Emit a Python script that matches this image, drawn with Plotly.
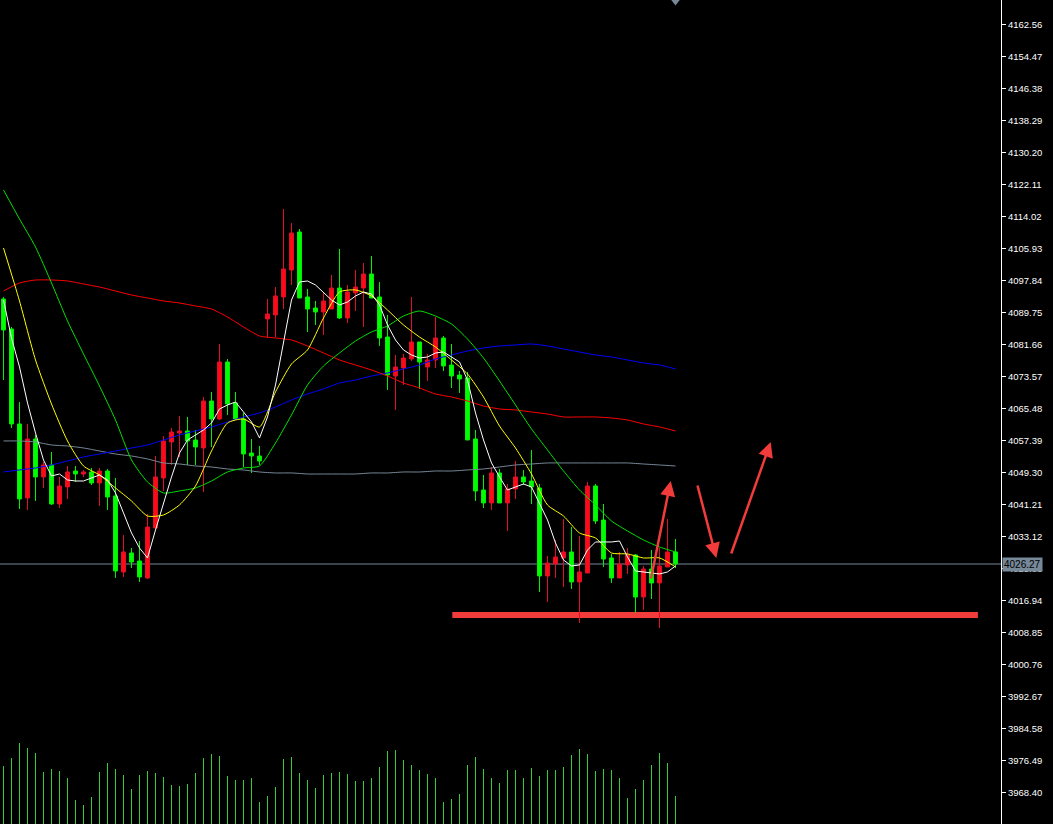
import plotly.graph_objects as go

# ---------------- data ----------------
opens = [4093.28, 4085.70, 4061.68, 4042.97, 4057.88, 4048.28, 4051.31, 4041.45, 4045.75, 4049.79,
         4049.03, 4049.54, 4046.76, 4049.79, 4043.47, 4024.26, 4029.06, 4027.04, 4022.74, 4035.38,
         4048.02, 4057.12, 4059.40, 4059.91, 4057.63, 4055.61, 4067.49, 4062.94, 4077.35, 4066.99,
         4062.94, 4054.34, 4053.58, 4088.22, 4089.24, 4093.79, 4100.61, 4110.22, 4093.79, 4091.01,
         4089.99, 4090.75, 4096.06, 4088.48, 4094.80, 4096.06, 4099.60, 4093.79, 4083.67, 4073.81,
         4075.83, 4078.11, 4082.41, 4076.09, 4077.86, 4083.42, 4076.59, 4074.06, 4073.31, 4057.88,
         4044.99, 4041.70, 4049.29, 4041.70, 4045.24, 4048.28, 4047.26, 4045.49, 4023.24, 4026.28,
         4027.80, 4029.31, 4021.73, 4024.00, 4046.00, 4037.40, 4027.80, 4022.74, 4026.03, 4028.55,
         4017.93, 4025.01, 4021.47, 4025.52, 4029.31]
highs = [4093.79, 4086.20, 4067.24, 4061.68, 4058.89, 4052.07, 4054.60, 4048.28, 4051.06, 4051.06,
         4050.05, 4050.55, 4050.55, 4050.30, 4048.02, 4033.61, 4030.32, 4032.09, 4038.92, 4053.58,
         4058.64, 4060.66, 4063.70, 4063.45, 4060.16, 4068.50, 4069.77, 4081.90, 4078.11, 4069.77,
         4064.46, 4057.88, 4056.11, 4093.28, 4096.31, 4116.04, 4112.50, 4110.98, 4095.81, 4092.78,
         4094.80, 4099.35, 4105.92, 4096.82, 4100.61, 4102.38, 4104.15, 4097.58, 4089.24, 4079.12,
         4079.37, 4093.79, 4082.41, 4079.37, 4088.73, 4083.93, 4081.90, 4075.08, 4074.82, 4060.16,
         4048.78, 4050.80, 4050.30, 4046.51, 4052.32, 4050.05, 4055.10, 4046.51, 4028.30, 4032.35,
         4037.66, 4035.63, 4033.36, 4047.01, 4046.51, 4041.45, 4028.81, 4029.31, 4030.32, 4028.81,
         4025.77, 4029.82, 4030.32, 4037.66, 4032.60]
lows = [4072.80, 4060.66, 4040.18, 4039.93, 4042.21, 4045.49, 4041.20, 4040.44, 4042.71, 4047.01,
        4048.28, 4046.25, 4040.94, 4039.93, 4022.74, 4022.99, 4025.27, 4021.73, 4022.49, 4035.38,
        4044.74, 4051.31, 4053.33, 4051.31, 4051.31, 4044.48, 4055.86, 4062.69, 4063.95, 4062.69,
        4050.80, 4049.29, 4051.31, 4083.42, 4083.67, 4090.75, 4096.82, 4093.53, 4084.94, 4086.71,
        4084.18, 4090.75, 4088.22, 4087.21, 4090.25, 4086.20, 4093.53, 4081.40, 4070.27, 4065.22,
        4071.54, 4077.60, 4070.53, 4072.55, 4075.83, 4075.08, 4070.78, 4069.51, 4057.63, 4042.21,
        4040.44, 4039.93, 4041.70, 4034.62, 4042.71, 4046.25, 4041.45, 4019.20, 4016.67, 4022.74,
        4020.46, 4019.96, 4011.36, 4024.00, 4036.39, 4025.52, 4021.47, 4022.74, 4023.75, 4013.89,
        4014.65, 4017.43, 4010.10, 4025.52, 4025.27]
closes = [4085.44, 4061.68, 4042.71, 4057.88, 4048.28, 4051.31, 4041.45, 4046.00, 4049.54, 4049.03,
          4049.54, 4046.76, 4049.79, 4043.22, 4024.51, 4029.31, 4026.78, 4022.99, 4035.63, 4048.28,
          4057.38, 4059.65, 4059.91, 4057.38, 4055.86, 4067.49, 4062.94, 4077.35, 4066.73, 4062.94,
          4054.09, 4053.58, 4052.32, 4089.49, 4094.04, 4100.87, 4109.97, 4093.53, 4090.75, 4089.99,
          4092.78, 4096.06, 4088.48, 4095.05, 4096.31, 4099.60, 4093.53, 4083.42, 4074.06, 4076.09,
          4078.36, 4082.41, 4077.35, 4077.86, 4083.42, 4076.34, 4073.81, 4073.05, 4057.63, 4044.74,
          4041.70, 4049.29, 4041.70, 4045.24, 4048.28, 4047.01, 4045.75, 4023.24, 4026.53, 4028.05,
          4029.31, 4021.73, 4024.26, 4046.00, 4037.15, 4027.54, 4022.74, 4026.28, 4028.55, 4017.93,
          4025.01, 4021.47, 4025.77, 4029.31, 4026.27]
volumes = [5800, 6600, 8100, 7600, 7100, 5200, 5500, 5300, 4600, 2400,
           1900, 2700, 5200, 6100, 5500, 4900, 3500, 4900, 5300, 5100,
           4700, 3900, 3800, 4000, 5100, 6600, 7000, 6800, 4800, 4400,
           4400, 4600, 2200, 2800, 3700, 6500, 6700, 5100, 4400, 3600,
           4900, 5100, 5200, 5000, 4300, 4300, 4600, 5700, 7300, 7400,
           6400, 5900, 5400, 5000, 4600, 2200, 2500, 3000, 5900, 6700,
           5500, 4600, 4100, 5400, 5400, 4600, 5600, 4800, 5400, 5400,
           5700, 6900, 7500, 7000, 5300, 5500, 5400, 4600, 2600, 3500,
           4400, 5900, 7100, 6100, 2800]

white_ma = [4093.03, 4083.42, 4076.09, 4066.99, 4059.40, 4052.57, 4048.53, 4049.03, 4047.52, 4047.26,
            4047.26, 4048.02, 4048.78, 4047.52, 4044.23, 4039.18, 4034.12, 4030.32, 4027.80, 4034.87,
            4041.70, 4048.28, 4054.34, 4057.63, 4058.89, 4060.16, 4061.93, 4065.47, 4066.48, 4067.24,
            4064.71, 4062.18, 4058.14, 4063.45, 4071.54, 4082.41, 4093.03, 4097.58, 4097.83, 4096.82,
            4095.05, 4093.03, 4091.77, 4092.52, 4094.04, 4095.05, 4094.54, 4091.77, 4086.71, 4082.91,
            4080.39, 4079.12, 4078.36, 4078.62, 4079.63, 4079.88, 4078.62, 4077.35, 4072.80, 4064.46,
            4057.63, 4051.82, 4048.28, 4044.99, 4045.75, 4046.51, 4045.75, 4041.70, 4037.40, 4031.59,
            4027.29, 4025.77, 4026.03, 4029.82, 4031.84, 4031.84, 4031.84, 4032.09, 4028.05, 4024.51,
            4024.26, 4024.00, 4023.75, 4024.26, 4025.77]

ma_idx = list(range(0, 85, 2))
yellow_ma = [4106.18, 4092.78, 4077.86, 4066.73, 4057.38, 4051.06, 4048.78, 4045.49, 4042.21, 4038.41,
             4038.67, 4041.20, 4046.00, 4054.85, 4061.93, 4062.94, 4060.92, 4069.77, 4076.85, 4080.39,
             4088.48, 4095.05, 4095.56, 4094.04, 4090.50, 4086.71, 4083.67, 4081.14, 4077.86, 4074.32,
             4068.50, 4061.17, 4055.61, 4049.03, 4041.20, 4038.41, 4034.12, 4032.85, 4029.06, 4028.81,
             4027.80, 4027.80, 4025.52]
green_ma = [4120.84, 4113.51, 4106.43, 4097.33, 4087.72, 4079.37, 4071.28, 4062.69, 4052.57, 4047.01,
            4044.23, 4044.74, 4045.49, 4047.26, 4049.54, 4050.55, 4051.06, 4056.87, 4063.95, 4071.54,
            4076.34, 4079.63, 4082.66, 4084.94, 4086.45, 4088.98, 4090.25, 4088.98, 4086.96, 4083.17,
            4078.36, 4072.55, 4066.48, 4060.41, 4055.10, 4049.79, 4044.99, 4041.20, 4037.15, 4034.62,
            4032.35, 4030.58, 4029.31]
red_ma = [4095.30, 4097.33, 4098.08, 4098.08, 4097.83, 4097.07, 4096.31, 4095.30, 4094.29, 4093.53,
          4092.78, 4092.27, 4091.51, 4090.75, 4088.73, 4086.20, 4083.93, 4083.42, 4082.91, 4081.40,
          4079.63, 4077.86, 4076.59, 4075.33, 4073.81, 4072.04, 4070.78, 4069.26, 4068.50, 4067.49,
          4066.23, 4065.47, 4065.22, 4064.71, 4064.20, 4063.45, 4063.45, 4063.45, 4063.19, 4062.69,
          4061.68, 4060.92, 4059.91]
blue_ma = [4049.54, 4050.05, 4050.55, 4051.31, 4052.32, 4053.33, 4054.09, 4054.85, 4055.61, 4056.37,
           4057.63, 4058.89, 4059.91, 4060.92, 4062.18, 4063.45, 4064.46, 4065.97, 4067.74, 4069.26,
           4070.53, 4072.04, 4072.80, 4073.81, 4074.57, 4075.58, 4076.59, 4078.11, 4079.12, 4080.13,
           4080.89, 4081.40, 4081.65, 4081.90, 4081.40, 4080.64, 4079.88, 4079.12, 4078.62, 4077.86,
           4077.10, 4076.59, 4075.58]
gray_ma = [4057.38, 4057.38, 4057.12, 4056.37, 4056.11, 4055.61, 4054.85, 4054.09, 4053.58, 4052.83,
           4051.82, 4051.56, 4051.06, 4050.80, 4050.30, 4050.05, 4049.54, 4049.29, 4049.29, 4049.03,
           4049.03, 4049.03, 4049.03, 4049.29, 4049.29, 4049.54, 4049.54, 4049.79, 4049.79, 4050.05,
           4050.30, 4050.80, 4051.31, 4051.56, 4051.82, 4051.82, 4051.82, 4051.82, 4051.82, 4051.82,
           4051.56, 4051.31, 4051.06]

tick_labels = ["4162.56", "4154.47", "4146.38", "4138.29", "4130.20", "4122.11", "4114.02",
               "4105.93", "4097.84", "4089.75", "4081.66", "4073.57", "4065.48", "4057.39",
               "4049.30", "4041.21", "4033.12", "4025.03", "4016.94", "4008.85", "4000.76",
               "3992.67", "3984.58", "3976.49", "3968.40"]
last_price = 4026.27
support_level = 4013.38
support_span = [56.1, 121.8]
# drawn arrows: (tail index, tail price, head index, head price)
arrows = [(80.9, 4022.23, 83.4, 4047.26),
          (86.7, 4046.51, 89.1, 4027.80),
          (90.9, 4028.55, 95.9, 4057.12)]

idx = list(range(len(opens)))

# ---------------- figure ----------------
fig = go.Figure()

fig.add_trace(go.Bar(x=idx, y=volumes, yaxis="y2", width=0.11,
                     marker=dict(color="#32cd32", line=dict(width=0)), showlegend=False))

for vals, col in [(gray_ma, "#778899"), (blue_ma, "#0000ff"), (red_ma, "#ff0000"),
                  (green_ma, "#00e000"), (yellow_ma, "#ffff00")]:
    fig.add_trace(go.Scatter(x=ma_idx, y=vals, mode="lines",
                             line=dict(color=col, width=1, shape="spline", smoothing=0.6),
                             showlegend=False, hoverinfo="skip"))

fig.add_trace(go.Candlestick(
    x=idx, open=opens, high=highs, low=lows, close=closes,
    increasing=dict(line=dict(color="#e0102a", width=1), fillcolor="#ff0a14"),
    decreasing=dict(line=dict(color="#00f000", width=1), fillcolor="#00ff00"),
    whiskerwidth=0, showlegend=False))

fig.add_trace(go.Scatter(x=idx, y=white_ma, mode="lines",
                         line=dict(color="#ffffff", width=1), showlegend=False, hoverinfo="skip"))

# chart-shift marker at top
fig.add_trace(go.Scatter(x=[idx[-1]], y=[4168.88], mode="markers",
                         marker=dict(symbol="triangle-down", size=11, color="#778899"),
                         showlegend=False, hoverinfo="skip"))

fig.add_shape(type="line", xref="paper", x0=0, x1=1, y0=last_price, y1=last_price,
              line=dict(color="#778899", width=1), layer="below")
fig.add_shape(type="line", x0=support_span[0], x1=support_span[1],
              y0=support_level, y1=support_level,
              line=dict(color="#f23b3b", width=6), layer="below")

for tx, ty, hx, hy in arrows:
    fig.add_annotation(x=hx, y=hy, ax=tx, ay=ty, xref="x", yref="y", axref="x", ayref="y",
                       text="", showarrow=True, arrowhead=2, arrowsize=1.2, arrowwidth=2.5,
                       arrowcolor="#f23b3b")

fig.add_annotation(x=1, xref="paper", y=last_price, yref="y", xanchor="left", yanchor="middle",
                   xshift=1, text=f"{last_price:.2f}", showarrow=False,
                   font=dict(family="Liberation Sans", size=10, color="#000000"),
                   bgcolor="#778899", borderpad=1)

fig.update_layout(
    width=1053, height=824,
    margin=dict(l=0, r=52, t=0, b=0),
    paper_bgcolor="#000000", plot_bgcolor="#000000",
    showlegend=False, bargap=0,
    xaxis=dict(range=[-0.4375, 124.6875], visible=False, rangeslider=dict(visible=False),
               showgrid=False, zeroline=False),
    yaxis=dict(range=[3960.53, 4168.88], side="right", showgrid=False, zeroline=False,
               tickvals=[float(t) for t in tick_labels], ticktext=tick_labels,
               ticks="outside", ticklen=4, tickcolor="#ffffff", tickwidth=1,
               showline=True, linecolor="#ffffff", linewidth=1,
               tickfont=dict(family="Liberation Sans", size=9.5, color="#ffffff")),
    yaxis2=dict(range=[0, 82400], overlaying="y", visible=False, showgrid=False),
)

fig.write_html("out.html", config={"displayModeBar": False},
               post_script="document.body.style.margin='0';document.body.style.background='#000';")
